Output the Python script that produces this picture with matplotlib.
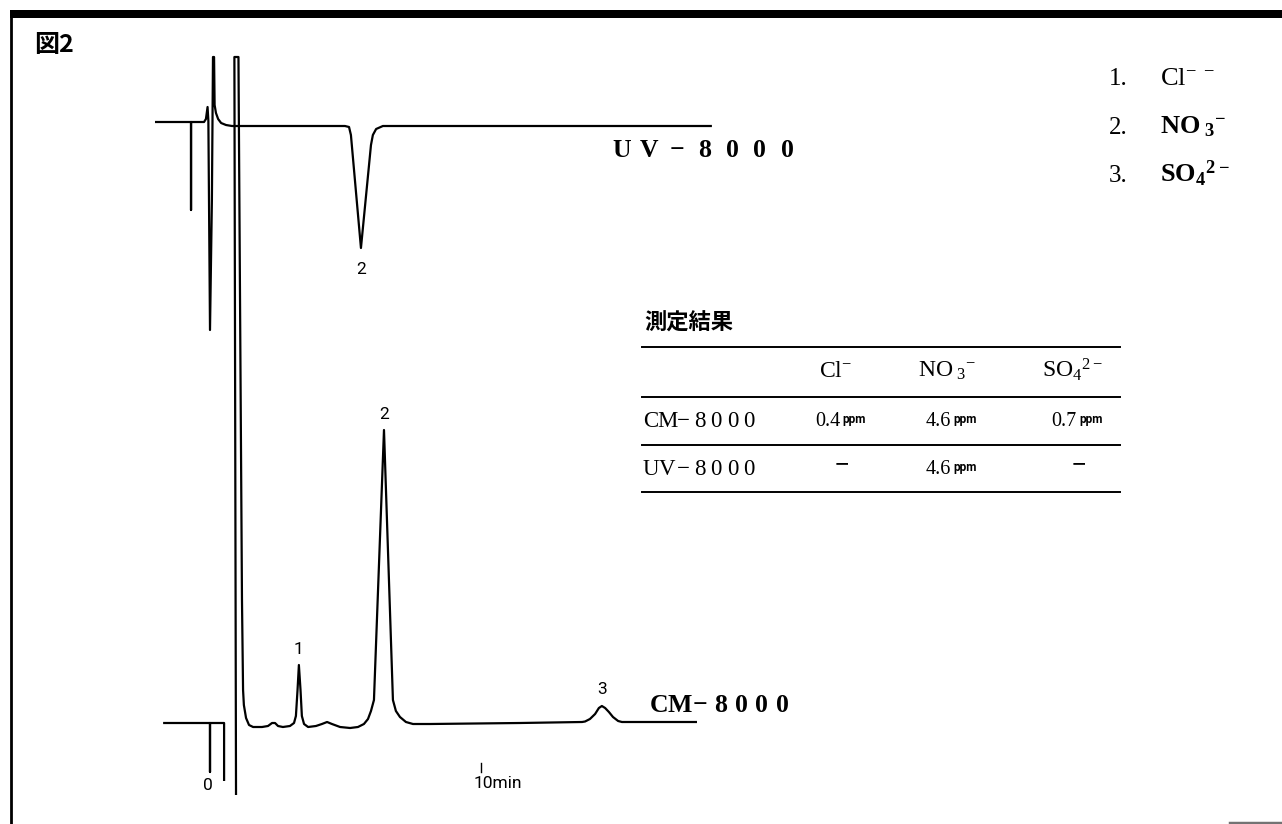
import numpy as np
import matplotlib
matplotlib.use("Agg")
import matplotlib.pyplot as plt
from matplotlib.lines import Line2D
from matplotlib.patches import Rectangle
from matplotlib.transforms import IdentityTransform

plt.rcParams['mathtext.default'] = 'regular'

nan = np.nan

# ---- chromatograms: time (min) vs detector response (arb. units) ----
# conductivity detector CM-8000 (NaN separates pen strokes)
cm_time = [-1.73, 0.00, 0.00, 0.00, 0.52, 0.52, nan,
           0.96, 0.90, 1.05, 1.18, 1.22, 1.25, 1.33, 1.44, 1.59, 1.92,
           2.14, 2.29, 2.40, 2.51, 2.69, 2.95, 3.10, 3.17, 3.23, 3.28,
           3.34, 3.39, 3.47, 3.62, 3.91, 4.13, 4.32, 4.50, 4.80, 5.17,
           5.46, 5.68, 5.83, 5.94, 6.05, 6.42, 6.75, 6.86, 7.01, 7.23,
           7.49, 8.12, 11.44, 13.73, 13.84, 14.02, 14.21, 14.35, 14.46,
           14.58, 14.72, 14.87, 15.06, 15.20, 17.97]
cm_signal = [4, 4, -45, 4, 4, -54, nan,
             -68, 670, 670, 127, 37, 22, 9, 2, 0, 0,
             1, 4, 4, 1, 0, 1, 4, 11, 37, 62,
             37, 11, 3, 0, 1, 3, 5, 3, 0, -1,
             0, 3, 8, 16, 27, 297, 27, 16, 10, 5,
             3, 3, 4, 5, 5.5, 8, 13, 19, 21,
             19, 15, 10, 6, 5, 5]

# UV detector UV-8000
uv_time = [-2.03, -0.70, -0.70, -0.70, -0.22, -0.15, -0.09, -0.06, 0.00,
           0.07, 0.11, 0.15, 0.17, 0.22, 0.30, 0.41, 0.59, 0.81, 4.98,
           5.13, 5.20, 5.57, 5.94, 6.01, 6.13, 6.38, 18.52]
uv_signal = [4, 4, -84, 4, 4, 7, 19, 5, -204,
             -74, 69, 69, 21, 13, 7, 3, 1, 0, 0,
             -1, -9, -122, -19, -9, -3, 0, 0]

cm_peak_ids = ["1", "2", "3"]
cm_peak_times = [3.28, 6.42, 14.46]
uv_peak_ids = ["2"]
uv_peak_times = [5.57]

time_ticks = [0, 10]
time_tick_labels = ["0", "10min"]

trace_names = ["UV−8000", "CM−8000"]

legend_ids = ["1.", "2.", "3."]
legend_ions = [r"Cl$^{-}\;{}^{-}$", r"NO$\,_{3}{}^{-}$", r"SO$_{4}{}^{2-}$"]

table_title = "測定結果"
ion_headers = [r"Cl$^{-}$", r"NO$\,_{3}{}^{-}$", r"SO$_{4}{}^{2-}$"]
detectors = ["CM−8000", "UV−8000"]
results_ppm = [["0.4", "4.6", "0.7"],
               [None, "4.6", None]]
unit = "ppm"

# ---- figure / axes ----
W, H = 1282, 824
fig = plt.figure(figsize=(W / 100, H / 100), dpi=100)
fig.patch.set_facecolor("white")
ax = fig.add_axes([0, 0, 1, 1])
px_per_min = 27.1
t0_px = 210
ax.set_xlim(-t0_px / px_per_min, (W - t0_px) / px_per_min)
ax.set_ylim(-97, 727)
ax.axis("off")
uv_offset = 601

LW = 1.6
serif = "Liberation Serif"
sans = "Roboto"

ax.plot(uv_time, np.array(uv_signal, float) + uv_offset, color="black",
        lw=LW, solid_joinstyle="round", solid_capstyle="butt")
ax.plot(cm_time, cm_signal, color="black", lw=LW,
        solid_joinstyle="round", solid_capstyle="butt")


def apex(times, sig, t):
    i = int(np.nanargmin(np.abs(np.array(times, float) - t)))
    return times[i], sig[i]


for pid, pt in zip(cm_peak_ids, cm_peak_times):
    t, s = apex(cm_time, cm_signal, pt)
    ax.annotate(pid, (t, s), xytext=(0, 16), textcoords="offset pixels",
                ha="center", va="center", fontsize=12.5, family=sans)
for pid, pt in zip(uv_peak_ids, uv_peak_times):
    t, s = apex(uv_time, uv_signal, pt)
    ax.annotate(pid, (t, s + uv_offset), xytext=(0, -21),
                textcoords="offset pixels", ha="center", va="center",
                fontsize=12.5, family=sans)

# time axis marks
for tk, lab in zip(time_ticks, time_tick_labels):
    if tk == 0:
        ax.annotate(lab, (tk, -59), xytext=(-2, 0), textcoords="offset pixels",
                    ha="center", va="center", fontsize=12.5, family=sans)
    else:
        ax.plot([tk, tk], [-36, -45], color="black", lw=1.0)
        ax.annotate(lab, (tk, -57), xytext=(-7, 0), textcoords="offset pixels",
                    ha="left", va="center", fontsize=12.5, family=sans)

ident = IdentityTransform()


def spaced_text(x, y, s, pitch, **kw):
    """Fixed-pitch text; x, y in pixels from the bottom-left corner."""
    for i, ch in enumerate(s):
        fig.text(x + i * pitch, y, ch, transform=ident, ha="center",
                 va="baseline", **kw)


def fy(py):
    return H - py


# trace names next to each chromatogram
x, y = ax.transData.transform((14.87, uv_offset - 31))
spaced_text(x + 9, y, trace_names[0], 27.5, family=serif, fontsize=18.5,
            fontweight="bold")
x, y = ax.transData.transform((16.24, 15))
spaced_text(x + 9, y, trace_names[1], 20.5, family=serif, fontsize=18.5,
            fontweight="bold")

# frame
fig.add_artist(Rectangle((10 / W, 1 - 18 / H), 1 - 10 / W, 8 / H,
                         transform=fig.transFigure, color="black", lw=0))
fig.add_artist(Line2D([11 / W, 11 / W], [0, 1 - 16 / H], lw=2.0,
                      color="black", transform=fig.transFigure))
fig.add_artist(Line2D([1230 / W, 1], [1.2 / H, 1.2 / H], lw=2.5,
                      color="0.45", transform=fig.transFigure))

# figure number
fig.text(34, fy(45), "図2", transform=ident, ha="left", va="center",
         fontsize=18, fontweight="bold", family=["Noto Sans CJK JP"])

# ion legend
for i, (lid, ion) in enumerate(zip(legend_ids, legend_ions)):
    yb = fy(85 + i * 48.5)
    fig.text(1109, yb, lid, transform=ident, ha="left", va="baseline",
             fontsize=18, family=serif)
    fig.text(1160, yb, ion, transform=ident, ha="left", va="baseline",
             fontsize=19, family=serif,
             fontweight="normal" if i == 0 else "bold")

# results table
fig.text(644, fy(323), table_title, transform=ident, ha="left", va="center",
         fontsize=16, fontweight="bold", family=["Noto Sans CJK JP"])
for py in [347, 397, 445, 492]:
    fig.add_artist(Line2D([642, 1120], [fy(py), fy(py)], lw=1.4,
                          color="black", transform=ident))
col_x = [836, 947, 1073]
for cx, hdr in zip(col_x, ion_headers):
    fig.text(cx, fy(377), hdr, transform=ident, ha="center",
             va="baseline", fontsize=17, family=serif)
row_base = [427, 475]
for rb, det, vals in zip(row_base, detectors, results_ppm):
    spaced_text(651, fy(rb), det, 16.3, family=serif, fontsize=16.5)
    for cx, v in zip(col_x, vals):
        if v is None:
            fig.text(cx + 6, fy(rb - 10), "−", transform=ident, ha="center",
                     va="center", fontsize=18, fontweight="bold",
                     family=serif)
        else:
            fig.text(cx + 4, fy(rb - 1), v, transform=ident, ha="right",
                     va="baseline", fontsize=14.5, family=serif)
            fig.text(cx + 6, fy(rb - 4), unit, transform=ident, ha="left",
                     va="baseline", fontsize=8.5, family=sans,
                     fontweight="bold")

fig.savefig("out.png", dpi=100, facecolor="white")
